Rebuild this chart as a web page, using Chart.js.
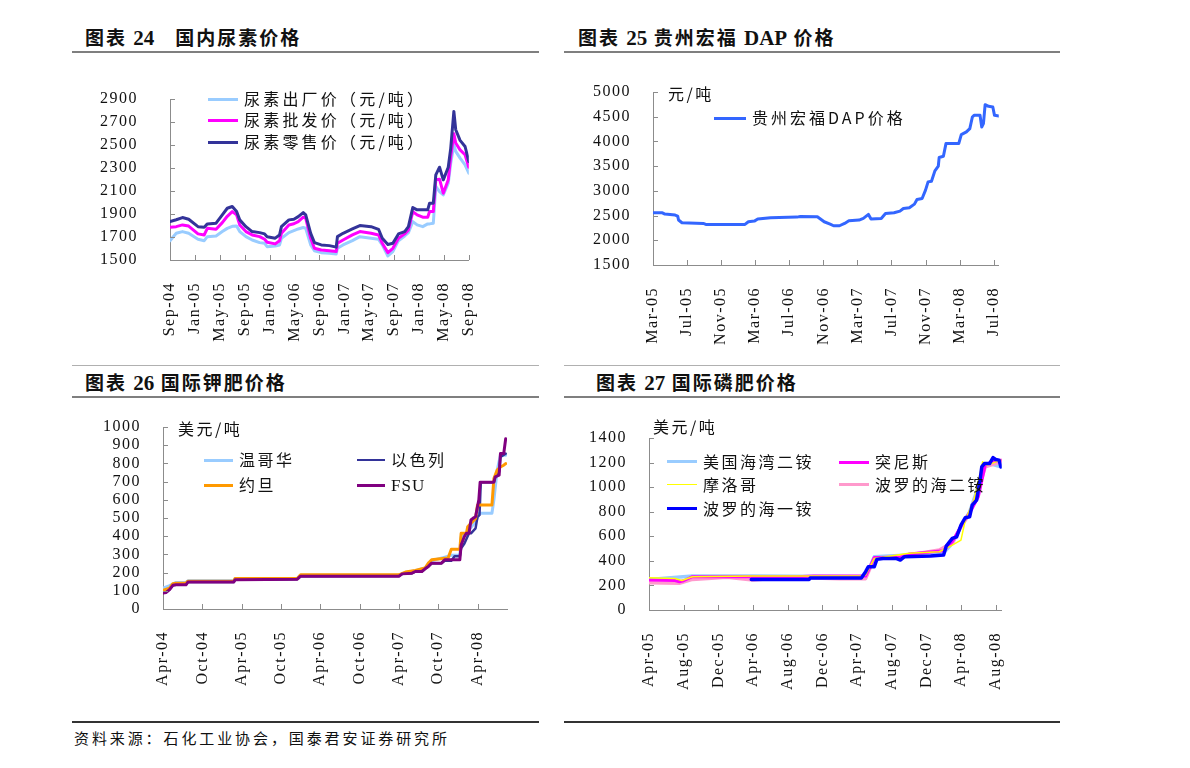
<!DOCTYPE html>
<html lang="zh-CN">
<head>
<meta charset="utf-8">
<title>化肥价格</title>
<script src="https://cdn.jsdelivr.net/npm/chart.js"></script>
<style>
html,body{margin:0;background:#fff}
body{position:relative;width:1190px;height:768px;overflow:hidden;
  font-family:"Noto Sans CJK SC","Noto Sans",sans-serif;color:#111}
.ttl{position:absolute;font-size:19px;font-weight:bold;letter-spacing:2px;white-space:nowrap;line-height:1}
.ttl .n{font-family:"Liberation Serif",serif;font-size:21px;letter-spacing:0}
.rule{position:absolute;height:0;border-top:2px solid #7f7f7f}
.rule.thin{border-top:1px solid #b0b0b0}
.rule.dark{border-top:2px solid #333}
.box{position:absolute}
.unit,.lg{position:absolute;font-size:16px;letter-spacing:2.5px;white-space:nowrap;line-height:1}
.lg i{position:absolute;height:0;top:9px}
.lg span{position:absolute;top:0}
.lg .en{font-family:"Liberation Serif",serif;font-size:17px;letter-spacing:1px;font-weight:normal}
.src{position:absolute;left:74px;top:730px;font-size:15px;letter-spacing:2.9px;white-space:nowrap;line-height:1}
</style>
</head>
<body>

<div class="ttl" style="left:85px;top:27px">图表 <span class="n">24</span>　国内尿素价格</div>
<div class="ttl" style="left:578px;top:27px">图表 <span class="n">25</span> 贵州宏福 <span class="n">DAP</span> 价格</div>
<div class="ttl" style="left:85px;top:372px">图表 <span class="n">26</span> 国际钾肥价格</div>
<div class="ttl" style="left:596px;top:372px">图表 <span class="n">27</span> 国际磷肥价格</div>

<div class="rule" style="left:72px;top:51px;width:467px"></div>
<div class="rule" style="left:564px;top:51px;width:496px"></div>
<div class="rule thin" style="left:72px;top:365px;width:467px"></div>
<div class="rule thin" style="left:564px;top:365px;width:496px"></div>
<div class="rule" style="left:72px;top:396px;width:467px"></div>
<div class="rule" style="left:564px;top:396px;width:496px"></div>
<div class="rule dark" style="left:72px;top:721px;width:467px"></div>
<div class="rule dark" style="left:564px;top:721px;width:496px"></div>

<div class="box" style="left:100px;top:89px;width:402px;height:256px"><canvas id="c1"></canvas></div>
<div class="box" style="left:583px;top:82px;width:444px;height:268px"><canvas id="c2"></canvas></div>
<div class="box" style="left:93px;top:417px;width:424px;height:277px"><canvas id="c3"></canvas></div>
<div class="box" style="left:579px;top:428px;width:450px;height:267px"><canvas id="c4"></canvas></div>

<div class="unit" style="left:668px;top:85px">元/吨</div>
<div class="unit" style="left:178px;top:420px">美元/吨</div>
<div class="unit" style="left:653px;top:418px">美元/吨</div>

<div class="src">资料来源：石化工业协会，国泰君安证券研究所</div>

<script>
/* ---------- 图表24 国内尿素价格（月份自 2004-09 起） ---------- */
const ureaTicks = ['Sep-04','Jan-05','May-05','Sep-05','Jan-06','May-06','Sep-06','Jan-07','May-07','Sep-07','Jan-08','May-08','Sep-08'];
const ureaMonths = [0,1,2,3,4.5,5.5,6,7.4,8.4,9.2,10,10.7,11.2,12.2,13.2,14.4,15.2,15.6,16.9,17.6,17.9,19.1,19.9,20.6,21.4,21.8,22.6,23.2,24.3,25.6,26.7,26.9,27.8,29.3,30.5,32.3,33.5,34.1,35.0,35.8,36.7,37.7,38.3,39.0,39.7,40.6,41.4,41.7,42.3,42.7,43.3,43.9,44.7,45.1,45.6,45.9,46.6,47.4,48];
const ureaFactory = [1668,1732,1747,1732,1680,1668,1703,1709,1747,1775,1793,1796,1747,1703,1674,1651,1645,1616,1622,1631,1689,1738,1755,1770,1782,1776,1631,1581,1564,1558,1552,1602,1631,1668,1703,1689,1680,1631,1535,1573,1668,1709,1738,1834,1805,1790,1814,1814,1820,2139,2095,2066,2168,2342,2502,2444,2386,2328,2255];
const ureaWholesale = [1785,1790,1805,1795,1727,1718,1776,1767,1825,1880,1921,1892,1805,1747,1718,1703,1680,1654,1640,1668,1732,1805,1815,1834,1872,1863,1689,1602,1587,1581,1573,1645,1674,1718,1747,1732,1718,1645,1564,1602,1689,1727,1761,1921,1892,1872,1872,1921,1921,2197,2203,2081,2197,2400,2598,2517,2458,2415,2307];
const ureaRetail = [1834,1850,1869,1854,1790,1785,1814,1820,1892,1950,1965,1921,1849,1790,1747,1738,1727,1703,1690,1718,1790,1849,1855,1877,1912,1892,1732,1651,1631,1625,1612,1703,1732,1770,1799,1790,1767,1689,1635,1645,1727,1747,1790,1956,1936,1936,1936,1994,1994,2240,2307,2197,2307,2473,2792,2633,2540,2487,2357];

/* ---------- 图表25 贵州宏福DAP价格（月份自 2005-03 起） ---------- */
const dapTicks = ['Mar-05','Jul-05','Nov-05','Mar-06','Jul-06','Nov-06','Mar-07','Jul-07','Nov-07','Mar-08','Jul-08'];
const dapMonths = [0,1.1,1.4,2.0,2.6,2.9,3.0,3.4,5.9,6.2,10.8,11.2,11.9,12.3,13.8,16.9,17.3,19.3,20.1,20.8,21.2,21.9,22.5,23.0,24.2,24.7,25.3,25.6,26.8,27.3,28.3,29.0,29.4,30.1,30.7,31.0,31.6,32.0,32.3,32.7,33.1,33.5,33.6,34.1,34.4,35.9,36.2,36.8,37.2,37.5,37.7,38.4,38.6,38.8,39.0,39.4,39.9,40.1,40.6];
const dapPrice = [2556,2556,2530,2523,2510,2490,2410,2355,2341,2321,2321,2375,2388,2429,2456,2469,2482,2476,2375,2328,2294,2294,2341,2395,2408,2442,2523,2429,2442,2543,2556,2590,2644,2657,2731,2826,2846,3014,3182,3196,3404,3499,3674,3700,3956,3956,4138,4192,4259,4495,4528,4528,4293,4360,4744,4710,4697,4528,4515];

/* ---------- 图表26 国际钾肥价格（月份自 2004-04 起） ---------- */
const potashTicks = ['Apr-04','Oct-04','Apr-05','Oct-05','Apr-06','Oct-06','Apr-07','Oct-07','Apr-08'];
const vancouverM = [0,1,2,3.5,3.8,10.8,11,20.5,21,36,37,38.5,40,41,43,44,45.3,45.5,46.3,47.7,48.3,50.2,50.5,51,51.5,52.3];
const vancouver  = [115,128,146,146,155,155,168,168,186,186,200,210,225,265,285,295,295,395,416,480,526,526,600,763,845,845];
const israelM = [0,0.5,1,1.5,2,3.5,3.8,10.8,11,20.5,21,34,36,36.5,38,38.5,39.5,40,40.5,41,42.5,43,44,44.5,45.3,45.5,46,46.7,47,47.7,48,48.3,48.5,50.5,50.7,51.3,51.5,52.3];
const israel  = [90,93,108,130,133,133,148,148,161,164,180,182,182,193,197,206,206,221,234,252,252,265,265,290,290,334,360,416,416,443,507,516,697,697,726,754,836,854];
const jordanM = [0,1,1.5,2,3.5,3.8,10.8,11,20.5,21,36,37,38.5,40,40.5,41,43,43.5,44,45.3,45.5,46.3,46.5,47.7,48,50.2,50.5,51,51.5,52,52.3];
const jordan  = [102,115,139,142,142,153,153,168,168,188,188,203,212,225,252,270,279,279,328,328,416,416,452,498,571,571,717,763,781,790,799];
const fsuM = [0,0.5,1,1.5,2,3.5,3.8,10.8,11,20.5,21,36,36.5,38,38.5,39.5,40,40.5,41,42.5,43,45.3,45.5,46,46.3,46.7,47,47.3,47.7,48.2,48.4,50.5,50.7,51.3,51.5,52,52.3];
const fsu  = [88,91,106,130,133,133,148,148,161,164,180,180,193,197,206,206,221,234,252,252,270,270,352,398,416,416,489,498,507,600,697,697,726,735,854,854,936];

/* ---------- 图表27 国际磷肥价格（月份自 2005-04 起） ---------- */
const phosTicks = ['Apr-05','Aug-05','Dec-05','Apr-06','Aug-06','Dec-06','Apr-07','Aug-07','Dec-07','Apr-08','Aug-08'];
const usGulfM = [0,5,12,25,26,30,34,35,36,37,38,38.6,39.3,40.6];
const usGulf  = [249,276,276,271,434,447,466,542,678,799,1003,1165,1192,1165];
const tunisiaM = [0,3,3.5,4,5,17,19,25,25.5,26,29,30,34,35,36.3,37.3,38,38.8,39.5,40.6];
const tunisia  = [244,240,230,238,271,271,276,276,350,428,428,455,482,556,718,827,921,1179,1206,1220];
const moroccoM = [0,3,3.8,5,12,24.5,25,26,30,33.5,35,36,36.5,37.5,38.5,39,40.6];
const morocco  = [263,257,240,271,276,276,285,420,461,474,528,569,732,894,1206,1179,1220];
const balticDapM = [0,3.5,5,9,12,16,22,25,26,30,33.5,35,36,37,38,38.8,40.6];
const balticDap  = [222,217,249,266,244,266,255,255,420,447,488,547,678,786,976,1165,1206];
const balticMapM = [11.8,18.5,18.6,24.5,25,25.3,26,26.3,27,28.5,29,29.5,32.5,34,34.3,35,35.5,36,36.5,37,37.3,37.8,38.2,38.4,38.7,39.3,39.7,40,40.4,40.6];
const balticMap  = [249,249,260,260,312,352,352,412,420,420,407,434,439,447,520,583,596,691,751,759,854,894,1057,1165,1192,1192,1241,1225,1220,1165];

/* ---------- 公共设置 ---------- */
const AXIS = '#8c8c8c';
const pts = (xs, ys) => xs.map((x, i) => ({x, y: ys[i]}));

// 向内的短刻度线
const innerTicks = {
  id: 'innerTicks',
  afterDraw(chart) {
    const {ctx, chartArea: a, scales: {x, y}} = chart;
    ctx.save();
    ctx.strokeStyle = AXIS; ctx.lineWidth = 1;
    ctx.beginPath();
    x.ticks.forEach(t => { const p = Math.round(x.getPixelForValue(t.value)) + .5; ctx.moveTo(p, a.bottom); ctx.lineTo(p, a.bottom - 5); });
    y.ticks.forEach(t => { const p = Math.round(y.getPixelForValue(t.value)) + .5; ctx.moveTo(a.left, p); ctx.lineTo(a.left + 5, p); });
    ctx.stroke();
    ctx.restore();
  }
};
// 刻度文字加字距，接近原图
const spacing = {
  id: 'spacing',
  beforeLayout(c) { c.ctx.letterSpacing = '1.5px'; },
  beforeDraw(c) { c.ctx.letterSpacing = '1.5px'; }
};

function makeChart(id, datasets, o) {
  const font = {family: '"Liberation Serif", serif', size: 16};
  return new Chart(document.getElementById(id), {
    type: 'line',
    data: {datasets},
    options: {
      animation: false, responsive: true, maintainAspectRatio: false,
      parsing: false, normalized: true,
      layout: {padding: {top: 10, right: 10, left: 0, bottom: 0}},
      elements: {point: {radius: 0}, line: {tension: 0, borderJoinStyle: 'round', borderCapStyle: 'round'}},
      plugins: {legend: {display: false}, tooltip: {enabled: false}},
      scales: {
        x: {
          type: 'linear', min: 0, max: o.xMax,
          grid: {display: false}, border: {color: AXIS, width: 1},
          afterBuildTicks: s => { s.ticks = o.xTicks.map((_, i) => ({value: i * o.xStep})); },
          afterFit: s => { s.height = 85; },
          ticks: {font, color: '#111', minRotation: 90, maxRotation: 90, padding: 14,
                  autoSkip: false, callback: v => o.xTicks[Math.round(v / o.xStep)]}
        },
        y: {
          min: o.yMin, max: o.yMax,
          grid: {display: false}, border: {color: AXIS, width: 1},
          afterFit: s => { s.width = 70; s.paddingTop = 0; s.paddingBottom = 0; },
          ticks: {font, color: '#111', stepSize: o.yStep, padding: o.yPad,
                  autoSkip: false, callback: v => String(v)}
        }
      }
    },
    plugins: [innerTicks, spacing]
  });
}

// order 越小画得越靠上
const ln = (label, xs, ys, color, w, order) => ({label, data: pts(xs, ys), borderColor: color, borderWidth: w, fill: false, order});

const s1 = [
  ln('尿素出厂价（元/吨）', ureaMonths, ureaFactory, '#99ccff', 3, 2),
  ln('尿素批发价（元/吨）', ureaMonths, ureaWholesale, '#ff00ff', 3, 1),
  ln('尿素零售价（元/吨）', ureaMonths, ureaRetail, '#333399', 3, 0)
];
const s2 = [ln('贵州宏福DAP价格', dapMonths, dapPrice, '#3366ff', 3, 0)];
const s3 = [
  ln('温哥华', vancouverM, vancouver, '#99ccff', 3, 3),
  ln('约旦', jordanM, jordan, '#ff9900', 3, 1),
  ln('以色列', israelM, israel, '#333399', 2.5, 2),
  ln('FSU', fsuM, fsu, '#800080', 3, 0)
];
const s4 = [
  ln('美国海湾二铵', usGulfM, usGulf, '#99ccff', 3.5, 4),
  ln('波罗的海二铵', balticDapM, balticDap, '#ff99cc', 3.5, 3),
  ln('突尼斯', tunisiaM, tunisia, '#ff00ff', 3, 2),
  ln('摩洛哥', moroccoM, morocco, '#ffff00', 1.5, 1),
  ln('波罗的海一铵', balticMapM, balticMap, '#0000ff', 3.5, 0)
];

makeChart('c1', s1, {xMax: 48, xStep: 4, xTicks: ureaTicks, yMin: 1500, yMax: 2900, yStep: 200, yPad: 24});
makeChart('c2', s2, {xMax: 40.6, xStep: 4, xTicks: dapTicks, yMin: 1500, yMax: 5000, yStep: 500, yPad: 14});
makeChart('c3', s3, {xMax: 52.5, xStep: 6, xTicks: potashTicks, yMin: 0, yMax: 1000, yStep: 100, yPad: 14});
makeChart('c4', s4, {xMax: 40.7, xStep: 4, xTicks: phosTicks, yMin: 0, yMax: 1400, yStep: 200, yPad: 14});

/* ---------- 图例（HTML） ---------- */
function legend(ds, spots, ls) {
  spots.forEach(([i, x, y, sw]) => {
    const d = ds[i], el = document.createElement('div');
    el.className = 'lg';
    el.style.left = x + 'px'; el.style.top = y + 'px';
    if (ls) el.style.letterSpacing = ls;
    const txt = /^[A-Z]+$/.test(d.label) ? `<b class="en">${d.label}</b>` : d.label;
    el.innerHTML = `<i style="left:0;width:${sw}px;border-top:${d.borderWidth}px solid ${d.borderColor};margin-top:-${d.borderWidth/2}px"></i><span style="left:${sw + 6}px">${txt}</span>`;
    document.body.appendChild(el);
  });
}
legend(s1, [[0, 208, 90, 30], [1, 208, 111, 30], [2, 208, 133, 30]], '3.2px');
legend(s2, [[0, 714, 109, 32]], '3px');
legend(s3, [[0, 204, 451, 29], [2, 357, 451, 28], [1, 204, 476, 29], [3, 357, 476, 28]]);
legend(s4, [[0, 667, 453, 30], [2, 839, 453, 30], [3, 667, 476, 30], [1, 839, 476, 30], [4, 667, 500, 30]]);
</script>
</body>
</html>
